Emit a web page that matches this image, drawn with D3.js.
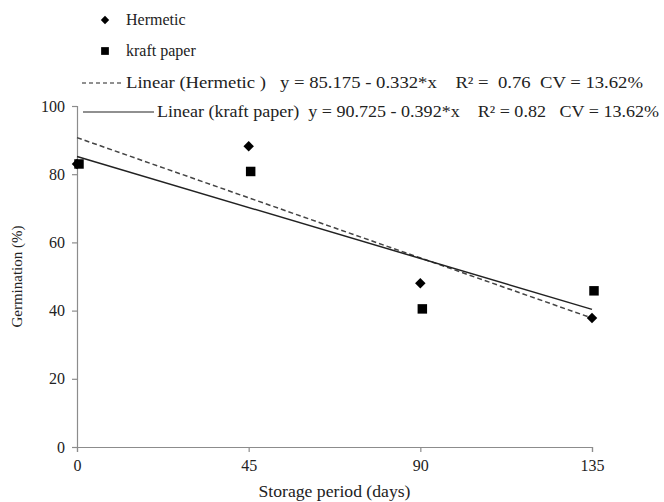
<!DOCTYPE html>
<html>
<head>
<meta charset="utf-8">
<script src="https://cdn.jsdelivr.net/npm/d3@7"></script>
<style>
  body { margin: 0; background: #fff; }
  svg text { font-family: "Liberation Serif", "Times New Roman", serif; fill: #222; }
</style>
</head>
<body>
<svg id="chart" width="664" height="502"></svg>
<script>
// storage days
const days = [0, 45, 90, 135]
// germination (%)
const hermetic = [83, 88.2, 48, 37.8]
const kraft = [83, 80.8, 40.5, 45.8]
// fitted lines as drawn (dashed / solid)
const dashedFit = {a: 90.725, b: -0.392}
const solidFit = {a: 85.175, b: -0.332}
const yTicks = [0, 20, 40, 60, 80, 100]
const legendLabels = [
  "Hermetic",
  "kraft paper",
  "Linear (Hermetic )   y = 85.175 - 0.332*x    R² =  0.76  CV = 13.62%",
  "Linear (kraft paper)  y = 90.725 - 0.392*x    R² = 0.82   CV = 13.62%"
]

const margin = {top: 106, right: 72, bottom: 55, left: 77}
const width = 664 - margin.left - margin.right
const height = 502 - margin.top - margin.bottom

const svg = d3.select("#chart")
const g = svg.append("g")
  .attr("transform", `translate(${margin.left}, ${margin.top})`)

const xScale = d3.scaleLinear().domain([0, 135]).range([0, width])
const yScale = d3.scaleLinear().domain([0, 100]).range([height, 0])

// axes
const xAxis = g.append("g")
  .attr("transform", `translate(0, ${height})`)
  .call(d3.axisBottom(xScale).tickValues(days).tickSize(5).tickPadding(8))
const yAxis = g.append("g")
  .call(d3.axisLeft(yScale).tickValues(yTicks).tickSize(5).tickPadding(7))
;[xAxis, yAxis].forEach(ax => {
  ax.selectAll("path, line").attr("stroke", "#8c8c8c").attr("stroke-width", 1.2)
  ax.selectAll("text").style("font-size", "16px").attr("fill", "#222")
    .style("font-family", '"Liberation Serif", serif')
})

// axis titles
svg.append("text")
  .attr("x", margin.left + width / 2)
  .attr("y", 497)
  .attr("text-anchor", "middle")
  .style("font-size", "16px")
  .attr("textLength", 152)
  .attr("lengthAdjust", "spacingAndGlyphs")
  .text("Storage period (days)")
svg.append("text")
  .attr("transform", `translate(22, ${margin.top + height / 2}) rotate(-90)`)
  .attr("text-anchor", "middle")
  .style("font-size", "15px")
  .text("Germination (%)")

// trend lines
const fitLine = (fit, dash) => {
  g.append("line")
    .attr("x1", xScale(0)).attr("y1", yScale(fit.a))
    .attr("x2", xScale(135)).attr("y2", yScale(fit.a + fit.b * 135))
    .attr("stroke", dash ? "#444" : "#222")
    .attr("stroke-width", 1.5)
    .attr("stroke-dasharray", dash ? "5,3" : null)
}
fitLine(dashedFit, true)
fitLine(solidFit, false)

// markers
const diamond = d3.symbol().type(d3.symbolDiamond2).size(70)
const square = d3.symbol().type(d3.symbolSquare).size(90)

g.selectAll(".kraft")
  .data(kraft)
  .enter()
  .append("path")
  .attr("class", "kraft")
  .attr("d", square)
  .attr("transform", (d, i) => `translate(${xScale(days[i]) + 2}, ${yScale(d)})`)
  .attr("fill", "#000")

g.selectAll(".herm")
  .data(hermetic)
  .enter()
  .append("path")
  .attr("class", "herm")
  .attr("d", diamond)
  .attr("transform", (d, i) => `translate(${xScale(days[i])}, ${yScale(d)})`)
  .attr("fill", "#000")

// legend
const lg = svg.append("g")
lg.append("path").attr("d", d3.symbol().type(d3.symbolDiamond2).size(45))
  .attr("transform", "translate(105, 20)").attr("fill", "#000")
lg.append("path").attr("d", d3.symbol().type(d3.symbolSquare).size(60))
  .attr("transform", "translate(105, 51)").attr("fill", "#000")
lg.append("line").attr("x1", 82).attr("x2", 122).attr("y1", 83).attr("y2", 83)
  .attr("stroke", "#222").attr("stroke-width", 1.2).attr("stroke-dasharray", "4,3")
lg.append("line").attr("x1", 83).attr("x2", 154).attr("y1", 112).attr("y2", 112)
  .attr("stroke", "#222").attr("stroke-width", 1.2)

const legendPos = [[126, 25], [126, 56], [126, 88], [157, 117]]
const legendLen = [null, null, 517, 502]
legendLabels.forEach((t, i) => {
  const txt = lg.append("text")
    .attr("x", legendPos[i][0])
    .attr("y", legendPos[i][1])
    .style("font-size", "16px")
    .style("white-space", "pre")
    .attr("xml:space", "preserve")
    .text(t)
  if (legendLen[i]) {
    txt.attr("textLength", legendLen[i]).attr("lengthAdjust", "spacingAndGlyphs")
  }
})
</script>
</body>
</html>
